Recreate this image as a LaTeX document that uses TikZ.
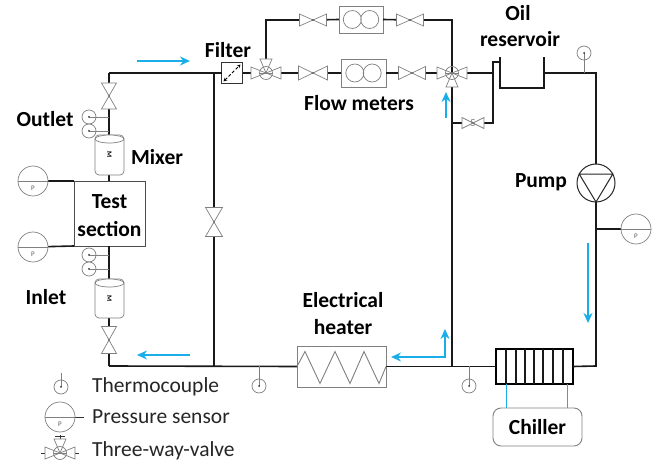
\documentclass[tikz,border=0pt]{standalone}
\usepackage{fontspec}
\setmainfont{Carlito}
\usetikzlibrary{arrows.meta, positioning, calc}
\colorlet{Cpipe}{black!90}
\colorlet{Cinst}{black!50}
\definecolor{Cflow}{HTML}{19AEE8}
\tikzset{
  pipe/.style={line width=1.6pt, Cpipe},
  stem/.style={line width=0.7pt, Cinst},
  inst/.style={line width=0.7pt, draw=Cinst, fill=white},
  lab/.style={font=\fontsize{21.5}{25}\selectfont\bfseries, align=center, inner sep=0pt},
  leg/.style={font=\fontsize{21.5}{25}\selectfont, anchor=west, inner sep=0pt, text=black!85},
  unit/.style={draw=Cinst, fill=white, line width=0.9pt, inner sep=0pt, outer sep=0pt},
  flowarr/.style={-{Stealth[length=10pt, width=9pt]}, line width=2.4pt, Cflow},
  coolant/.style={line width=1pt, Cflow},
  %% Valve: half length, half height
  pics/valve/.style 2 args={code={%
    \draw[inst] (-#1,-#2) -- (#1,#2) -- (#1,-#2) -- (-#1,#2) -- cycle;
  }},
  %% Three-way valve, third leg up (-1) or down (1)
  pics/tway/.style={code={%
    \draw[inst] (-15,-6) -- (15,6) -- (15,-6) -- (-15,6) -- cycle;
    \draw[inst] (-6,#1*14) -- (6,#1*14) -- (0,0) -- cycle;
    \draw[inst, fill=none] (0,0) circle (6.5);
    \draw[stem] (-6.5,0) -- (6.5,0);
  }},
  pics/thermo/.style={code={%
    \draw[inst] (0,0) circle (7);
    \draw[stem] (0,0) -- (#1:7);
    \fill[black!80] (0,0) circle (1);
  }},
  pics/psens/.style={code={%
    \draw[inst] (0,0) circle (15);
    \draw[stem] (-15,0) -- (15,0);
    \node[inner sep=0pt, font=\fontsize{7}{8}\selectfont, text=black!65] (-p) at (0,7) {P};
  }},
  pics/twin/.style={code={%
    \draw[stem] (-8.7,0) circle (9) (8.7,0) circle (9);
  }},
}
\begin{document}
\begin{tikzpicture}[x=1pt, y=-1pt]
\useasboundingbox (0,0) rectangle (670,470);

%% Units
\node[unit, minimum width=71pt, minimum height=65pt, draw=black!70] (test) at (109.5,213.5) {};
\node[unit, minimum width=21pt, minimum height=21pt, draw=black!80] (filter) at (232,73) {};
\node[unit, minimum width=44pt, minimum height=27pt] (fma) at (361,19.5) {};
\node[unit, minimum width=45pt, minimum height=28pt] (fmb) at (363.5,73) {};
\node[unit, minimum width=89pt, minimum height=41pt] (heater) at (341.5,366.5) {};
\node[unit, minimum width=77pt, minimum height=35pt, draw=black, line width=1.6pt] (hx) at (534.5,366.5) {};
\node[unit, minimum width=89pt, minimum height=38pt, rounded corners=8pt] (chiller) at (537.5,427) {};
\node[draw=black!85, fill=white, circle, line width=1pt, minimum size=38pt, inner sep=0pt, outer sep=0pt] (pump) at (596,183) {};

%% Junctions and instruments
\coordinate (cTL) at (109,73);
\coordinate (cBL) at (109,366);
\coordinate (jLoop) at (214,73);
\coordinate (jLoopB) at (214,366);
\coordinate (vBranch) at (214,222);
\coordinate (twA) at (266,73);
\coordinate (cUL) at (266,20);
\coordinate (cUR) at (452,20);
\coordinate (vUa) at (313,20);
\coordinate (vUb) at (410,20);
\coordinate (vLa) at (313,73);
\coordinate (vLb) at (412,73);
\coordinate (twB) at (452,73);
\coordinate (jRet) at (452,366);
\coordinate (jBy) at (452,123);
\coordinate (vBy) at (473,123);
\coordinate (cByR) at (493,123);
\coordinate (jRes) at (493,73);
\coordinate (cByT) at (493,62);
\coordinate (resTL) at (500,57);
\coordinate (resBL) at (500,88);
\coordinate (resBR) at (544,88);
\coordinate (resTR) at (544,57);
\coordinate (resOut) at (544,73);
\coordinate (resStub) at (500,62);
\coordinate (cTR) at (596,73);
\coordinate (cBR) at (596,366);
\coordinate (jPs) at (596,229);
\coordinate (vOut) at (109,96);
\coordinate (vIn) at (109,340);
\coordinate (mixA) at (109.5,155);
\coordinate (mixB) at (109.5,298.5);

%% Pipe work
\draw[pipe] (cTL) -- (filter.west);
\draw[pipe] (cTL) -- (vOut) -- (test.north -| cTL);
\draw[pipe] (test.south -| cTL) -- (vIn) -- (cBL);
\draw[pipe] (cBL) -- (heater.west);
\draw[pipe] (jLoop) -- (vBranch) -- (jLoopB);
\draw[pipe] (filter.east) -- (twA) -- (vLa) -- (fmb.west);
\draw[pipe] (fmb.east) -- (vLb) -- (twB);
\draw[pipe] (twA) -- (cUL) -- (vUa) -- (fma.west);
\draw[pipe] (fma.east) -- (vUb) -- (cUR) -- (twB);
\draw[pipe] (twB) -- (jRet);
\draw[pipe] (heater.east) -- (hx.west);
\draw[pipe] (twB) -- (jRes);
\draw[pipe] (jBy) -- (vBy) -- (cByR) -- (cByT) -- (resStub);
\draw[pipe] (resTL) -- (resBL) -- (resBR) -- (resTR);
\draw[pipe] (resOut) -- (cTR) -- (pump.north);
\draw[pipe] (pump.south) -- (cBR) -- (hx.east);

%% Valves
\pic at (vUa) {valve={13.5}{6}};
\pic at (vUb) {valve={13.5}{6}};
\pic at (vLa) {valve={14.5}{7}};
\pic at (vLb) {valve={13.5}{6.5}};
\pic at (vBy) {valve={11}{5.5}};
\pic[rotate=90] at (vOut) {valve={13}{7.5}};
\pic[rotate=90] at (vIn) {valve={13.5}{7.5}};
\pic[rotate=90] at (vBranch) {valve={14.5}{8.5}};
\node[inner sep=0pt, font=\fontsize{11}{12}\selectfont, text=Cinst] (sBy) at (vBy) {S};
\pic at (twA) {tway=-1};
\pic at (twB) {tway=1};

%% Filter
\draw[densely dashed, line width=1pt, {Stealth[length=3.5pt, width=3.5pt]}-{Stealth[length=3.5pt, width=3.5pt]}]
  ($(filter.south west)+(2,-2)$) -- ($(filter.north east)+(-2,2)$);

%% Flow meters, heater, chiller
\pic at (fma) {twin};
\pic at (fmb) {twin};
\draw[line width=0.9pt, Cinst] (heater.west) -- ++(8,-15) -- ++(15,32) -- ++(15,-32) -- ++(15,32)
  -- ++(14,-32) -- ++(15,32) -- (heater.east);
\draw[pipe] (506,349) -- (506,384) (516,349) -- (516,384) (525,349) -- (525,384) (534,349) -- (534,384)
  (543,349) -- (543,384) (553,349) -- (553,384) (563,349) -- (563,384);
\coordinate (coolA) at (506,384);
\coordinate (coolB) at (567,384);
\draw[coolant] (coolA) -- (coolA |- chiller.north);
\draw[coolant] (coolB) -- (coolB |- chiller.north);

%% Pump
\draw[line width=1pt, black!85] (pump.152) -- (pump.28) -- (pump.south) -- cycle;

%% Mixers
\node[draw=Cinst, fill=white, line width=0.7pt, rounded corners=4pt, minimum width=29pt, minimum height=40pt, inner sep=0pt, outer sep=0pt] (mixerA) at (mixA) {};
\draw[inst] (mixerA.north) ++(0,4) ellipse (14.5 and 4);
\node[rotate=-90, inner sep=0pt, font=\fontsize{7}{8}\selectfont\bfseries] (mA) at (mixA) {M};
\node[draw=Cinst, fill=white, line width=0.7pt, rounded corners=4pt, minimum width=29pt, minimum height=39pt, inner sep=0pt, outer sep=0pt] (mixerB) at (mixB) {};
\draw[inst] (mixerB.north) ++(0,4) ellipse (14.5 and 4);
\node[rotate=-90, inner sep=0pt, font=\fontsize{7}{8}\selectfont\bfseries] (mB) at (mixB) {M};

%% Thermocouples
\coordinate (tcOa) at (89,117);
\coordinate (tcOb) at (89,131);
\coordinate (tcIa) at (89,255);
\coordinate (tcIb) at (89,269);
\coordinate (tcRes) at (584,53);
\coordinate (tcRet) at (469,386);
\coordinate (tcHead) at (259,386);
\draw[stem] (tcOa) -- (tcOa -| cTL);
\draw[stem] (tcOb) -- (tcOb -| cTL);
\draw[stem] (tcIa) -- (tcIa -| cTL);
\draw[stem] (tcIb) -- (tcIb -| cTL);
\draw[stem] (tcRes) -- (tcRes |- cTR);
\draw[stem] (tcRet) -- (tcRet |- jRet);
\draw[stem] (tcHead) -- (tcHead |- cBL);
\pic at (tcOa) {thermo=0};
\pic at (tcOb) {thermo=0};
\pic at (tcIa) {thermo=0};
\pic at (tcIb) {thermo=0};
\pic at (tcRes) {thermo=90};
\pic at (tcRet) {thermo=270};
\pic at (tcHead) {thermo=270};

%% Pressure sensors
\coordinate (psA) at (33,181);
\coordinate (psB) at (33,247);
\coordinate (psC) at (636,229);
\draw[pipe] (psA) -- (test.north west);
\draw[pipe] (psB) -- (test.south west);
\draw[pipe] (jPs) -- (psC);
\pic (pa) at (psA) {psens};
\pic (pb) at (psB) {psens};
\pic (pc) at (psC) {psens};

%% Flow direction
\coordinate (faA) at (137,61);
\coordinate (faB) at (190,61);
\coordinate (fbA) at (190,355);
\coordinate (fbB) at (137,355);
\coordinate (fcA) at (446,118);
\coordinate (fcB) at (446,92);
\coordinate (fdA) at (445,329);
\coordinate (fdC) at (445,357);
\coordinate (fdB) at (391,357);
\coordinate (feA) at (588,243);
\coordinate (feB) at (588,323);
\draw[flowarr] (faA) -- (faB);
\draw[flowarr] (fbA) -- (fbB);
\draw[flowarr] (fcA) -- (fcB);
\draw[flowarr, {Stealth[length=10pt, width=9pt]}-{Stealth[length=10pt, width=9pt]}] (fdA) -- (fdC) -- (fdB);
\draw[flowarr] (feA) -- (feB);

%% Labels
\node[lab] (lFilter) at (228,50) {Filter};
\node[lab] (lMeters) at (359,103) {Flow meters};
\node[lab] (lOil) at (518,13) {Oil};
\node[lab] (lRes) at (520,39) {reservoir};
\node[lab] (lOutlet) at (45,119) {Outlet};
\node[lab] (lMixer) at (157,157) {Mixer};
\node[lab] (lTest) at (109.5,202) {Test};
\node[lab] (lSect) at (109.5,229) {section};
\node[lab] (lInlet) at (46,297) {Inlet};
\node[lab] (lElec) at (343,300) {Electrical};
\node[lab] (lHeat) at (343,327) {heater};
\node[lab] (lPump) at (541,182) {Pump};
\node[lab] (lChill) at (chiller) {Chiller};

%% Legend
\coordinate (legT) at (61,387);
\coordinate (legTs) at (61,373);
\coordinate (legP) at (60,417);
\coordinate (legPe) at (84,417);
\coordinate (legV) at (60,453);
\draw[stem] (legT) -- (legTs);
\pic at (legT) {thermo=270};
\draw[stem, draw=black!80] (legP) -- (legPe);
\pic (pl) at (legP) {psens};
\draw[stem, draw=black!80] (legV) ++(-19,0) -- ++(38,0) (legV) ++(0,-18) -- ++(0,18)
  (legV) ++(-5,-17) -- ++(10,0);
\pic at (legV) {tway=-1};
\node[leg] (tThermo) at (92,387) {Thermocouple};
\node[leg] (tPress) at (92,417) {Pressure sensor};
\node[leg] (tValve) at (92,451) {Three-way-valve};
\end{tikzpicture}
\end{document}
